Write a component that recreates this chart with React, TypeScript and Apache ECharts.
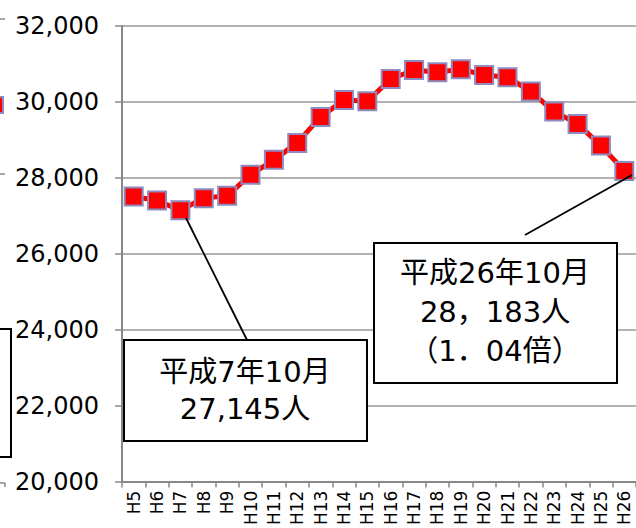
import React, { useEffect, useRef } from "react";
import * as echarts from "echarts";

const categories = ["H5","H6","H7","H8","H9","H10","H11","H12","H13","H14","H15","H16","H17","H18","H19","H20","H21","H22","H23","H24","H25","H26"];
const population = [27508,27403,27145,27466,27526,28079,28474,28921,29605,30053,30015,30605,30842,30781,30860,30711,30650,30272,29745,29421,28850,28183];
const yTicks = { min: 20000, max: 32000, interval: 2000 };
const note1 = ["平成7年10月", "27,145人"];
const note2 = ["平成26年10月", "28，183人", "（1．04倍）"];

const noteFont = "'DejaVu Sans', 'Noto Sans CJK JP', sans-serif";

export default function App() {
  const ref = useRef<HTMLDivElement>(null);
  useEffect(() => {
    if (!ref.current) return;
    const chart = echarts.init(ref.current, null, { renderer: "svg" });
    chart.setOption({
      animation: false,
      backgroundColor: "#ffffff",
      grid: { left: 122, top: 26, width: 515, bottom: 46, containLabel: false },
      xAxis: {
        type: "category",
        data: categories,
        boundaryGap: true,
        axisLine: { lineStyle: { color: "#888888", width: 2 } },
        axisTick: { show: true, length: 6, lineStyle: { color: "#888888", width: 1.5 } },
        axisLabel: { rotate: 90, fontSize: 17, color: "#000", fontFamily: "'DejaVu Sans', sans-serif", margin: 9, interval: 0 },
        splitLine: { show: false },
      },
      yAxis: {
        type: "value",
        min: yTicks.min,
        max: yTicks.max,
        interval: yTicks.interval,
        axisLine: { show: true, lineStyle: { color: "#888888", width: 2 } },
        axisTick: { show: true, inside: false, length: 7, lineStyle: { color: "#888888", width: 1.5 } },
        axisLabel: {
          fontSize: 24,
          color: "#000",
          fontFamily: "'DejaVu Sans', sans-serif",
          margin: 23,
          formatter: (v: number) => v.toLocaleString("en-US"),
        },
        splitLine: { show: true, lineStyle: { color: "#999999", width: 1.5 } },
      },
      series: [
        {
          type: "line",
          data: population,
          symbol: "rect",
          symbolSize: 18,
          lineStyle: { color: "#ff0000", width: 5 },
          itemStyle: { color: "#ff0000", borderColor: "#8c8cc0", borderWidth: 2 },
        },
      ],
      graphic: [
        { type: "line", z: 100, shape: { x1: 0, y1: 19, x2: 5, y2: 19 }, style: { stroke: "#888", lineWidth: 1.5 } },
        { type: "line", z: 100, shape: { x1: 0, y1: 174, x2: 5, y2: 174 }, style: { stroke: "#888", lineWidth: 1.5 } },
        { type: "line", z: 100, shape: { x1: 0, y1: 483, x2: 5, y2: 483 }, style: { stroke: "#888", lineWidth: 1.5 } },
        { type: "line", z: 100, shape: { x1: 5, y1: 483, x2: 5, y2: 487 }, style: { stroke: "#888", lineWidth: 1.5 } },
        { type: "rect", z: 100, shape: { x: -14, y: 97, width: 17, height: 16 }, style: { fill: "#ff0000", stroke: "#8c8cc0", lineWidth: 2 } },
        { type: "rect", z: 100, shape: { x: -100, y: 329, width: 111, height: 128 }, style: { fill: "#ffffff", stroke: "#000", lineWidth: 2 } },
        { type: "line", z: 100, shape: { x1: 186, y1: 218, x2: 247, y2: 340 }, style: { stroke: "#000", lineWidth: 1.8 } },
        { type: "line", z: 100, shape: { x1: 632, y1: 175, x2: 525, y2: 235 }, style: { stroke: "#000", lineWidth: 1.8 } },
        { type: "rect", z: 101, shape: { x: 124, y: 340, width: 243, height: 101 }, style: { fill: "#ffffff", stroke: "#000", lineWidth: 2 } },
        {
          type: "text", z: 102, x: 245, y: 390,
          style: { text: note1.join("\n"), fill: "#000", font: `29px ${noteFont}`, align: "center", verticalAlign: "middle", lineHeight: 37 },
        },
        { type: "rect", z: 101, shape: { x: 374, y: 243, width: 243, height: 140 }, style: { fill: "#ffffff", stroke: "#000", lineWidth: 2 } },
        {
          type: "text", z: 102, x: 495, y: 312,
          style: { text: note2.join("\n"), fill: "#000", font: `29px ${noteFont}`, align: "center", verticalAlign: "middle", lineHeight: 39 },
        },
      ],
    });
    return () => chart.dispose();
  }, []);
  return <div ref={ref} style={{ position: "fixed", left: 0, top: 0, width: 636, height: 528 }} />;
}
